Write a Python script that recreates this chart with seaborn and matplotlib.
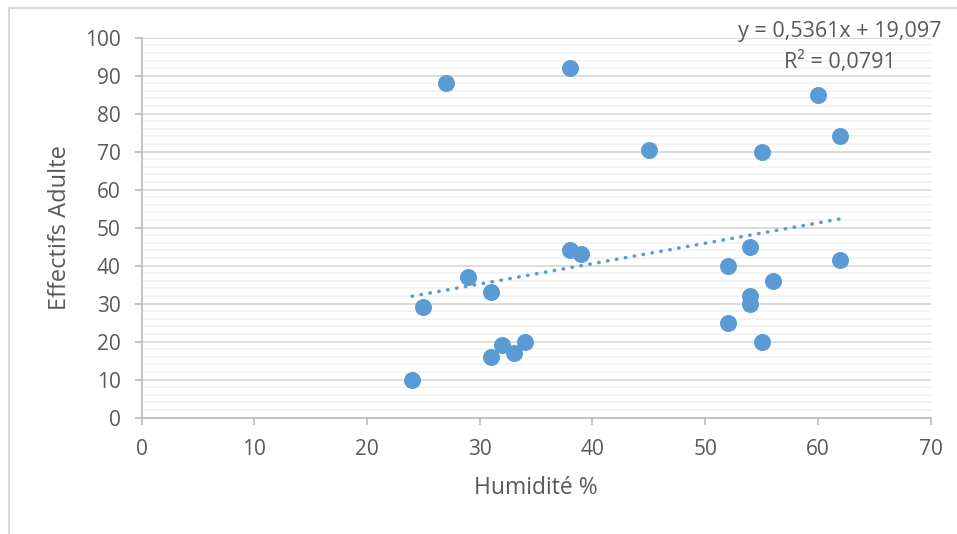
import matplotlib
matplotlib.use('Agg')
import matplotlib.pyplot as plt
import seaborn as sns
import pandas as pd
from matplotlib.patches import Rectangle
from matplotlib.ticker import MultipleLocator

# données
humidite = [24, 25, 27, 29, 31, 31, 32, 33, 34, 38, 38, 39,
            45, 52, 52, 54, 54, 54, 55, 55, 56, 60, 62, 62]
effectifs = [10, 29, 88, 37, 33, 16, 19, 17, 20, 92, 44, 43,
             70.5, 40, 25, 45, 32, 30, 70, 20, 36, 85, 74, 41.5]
equation = 'y = 0,5361x + 19,097'
r2_text = 'R² = 0,0791'

df = pd.DataFrame({'Humidité %': humidite, 'Effectifs Adulte': effectifs})

sns.set_theme(style='white')
plt.rcParams['font.family'] = ['Open Sans', 'DejaVu Sans']

BLUE = '#5B9BD5'
TXT = '#595959'

fig = plt.figure(figsize=(9.57, 5.34), dpi=100)
ax = fig.add_axes([0.148, 0.2178, 0.8244, 0.7116])

# cadre de la zone de graphique (coupé à droite et en bas)
fig.patches.append(Rectangle((9 / 957, -0.1), 1.2, 1 - 8 / 534 + 0.1,
                             transform=fig.transFigure, fill=False,
                             edgecolor='#D9D9D9', linewidth=1.5))

sns.scatterplot(data=df, x='Humidité %', y='Effectifs Adulte', ax=ax,
                color=BLUE, s=150, linewidth=0, zorder=3)
sns.regplot(data=df, x='Humidité %', y='Effectifs Adulte', ax=ax,
            scatter=False, ci=None, truncate=True, color=BLUE,
            line_kws=dict(linewidth=2.6, linestyle=(0, (0.1, 2.4)),
                          dash_capstyle='round', zorder=4))

ax.set_xlim(0, 70)
ax.set_ylim(0, 100)
ax.xaxis.set_major_locator(MultipleLocator(10))
ax.yaxis.set_major_locator(MultipleLocator(10))
ax.yaxis.set_minor_locator(MultipleLocator(2))

ax.grid(False)
ax.yaxis.grid(True, which='major', color='#D9D9D9', linewidth=1.3)
ax.yaxis.grid(True, which='minor', color='#F2F2F2', linewidth=1.3)
ax.set_axisbelow(True)

for s in ['top', 'right']:
    ax.spines[s].set_visible(False)
for s in ['left', 'bottom']:
    ax.spines[s].set_color('#BFBFBF')
    ax.spines[s].set_linewidth(1.3)

ax.tick_params(axis='both', which='major', direction='out', length=5,
               width=1.3, color='#BFBFBF', labelcolor=TXT, labelsize=15)
ax.tick_params(axis='y', which='minor', left=False)
ax.tick_params(axis='y', which='major', pad=10, left=True)
ax.tick_params(axis='x', which='major', pad=10, bottom=True)

ax.set_xlabel('Humidité %', fontsize=16.5, color=TXT)
ax.set_ylabel('Effectifs Adulte', fontsize=17, color=TXT)
ax.xaxis.set_label_coords(0.5, -0.185)
ax.xaxis.label.set_va('center')
ax.yaxis.set_label_coords(-0.104, 0.5)
ax.yaxis.label.set_va('center')

# équation de la courbe de tendance
fig.text(840 / 957, 1 - 31.7 / 534, equation, ha='center', va='center',
         fontsize=15.5, color=TXT)
fig.text(840 / 957, 1 - 61.7 / 534, r2_text, ha='center', va='center',
         fontsize=15.5, color=TXT)

fig.savefig('out.png', dpi=100, facecolor='white')
plt.close(fig)
